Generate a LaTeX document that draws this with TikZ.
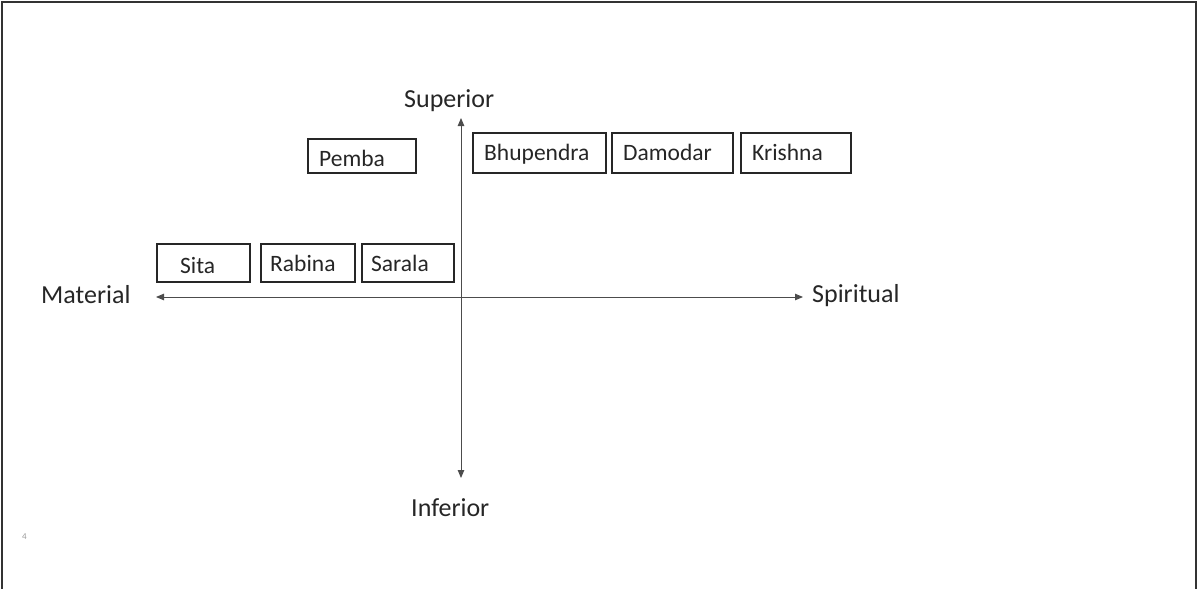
\documentclass[tikz,border=0pt]{standalone}
\usepackage{fontspec}
\setmainfont{Carlito}
\usetikzlibrary{arrows.meta}
\tikzset{
  box/.style={draw=black!85, line width=1.6pt, inner sep=0pt},
  boxtext/.style={anchor=base west, inner sep=0pt, font=\fontsize{23.5}{28}\selectfont, text=black!85},
  axislabel/.style={anchor=base west, inner sep=0pt, font=\fontsize{26}{31}\selectfont, text=black!85},
  axis/.style={draw=black!70, line width=0.9pt, {Stealth[length=8pt,width=6.5pt,inset=0pt]}-{Stealth[length=8pt,width=6.5pt,inset=0pt]}},
  frame/.style={draw=black!80, line width=1.8pt}
}
\begin{document}
\begin{tikzpicture}[x=1pt,y=-1pt]
\useasboundingbox (0,0) rectangle (1197,589);
% frame
\draw[frame] (2,589) -- (2,2) -- (1196,2) -- (1196,589);
% axis end points
\coordinate (left) at (156,297);
\coordinate (right) at (803,297);
\coordinate (top) at (461,118);
\coordinate (bottom) at (461,478);
\draw[axis] (left) -- (right);
\draw[axis] (bottom) -- (top);
% axis labels
\node[axislabel] (superior) at (404,107) {Superior};
\node[axislabel] (inferior) at (411,516) {Inferior};
\node[axislabel] (material) at (41,303) {Material};
\node[axislabel] (spiritual) at (812,302) {Spiritual};
% boxes
\node[box, minimum width=93pt, minimum height=38pt] (sitabox) at (203.5,263) {};
\node[box, minimum width=94pt, minimum height=38pt] (rabinabox) at (308,263) {};
\node[box, minimum width=92pt, minimum height=38pt] (saralabox) at (408,263) {};
\node[box, minimum width=108pt, minimum height=34pt] (pembabox) at (362,156) {};
\node[box, minimum width=133pt, minimum height=40pt] (bhupendrabox) at (539.5,153) {};
\node[box, minimum width=121pt, minimum height=40pt] (damodarbox) at (672.5,153) {};
\node[box, minimum width=110pt, minimum height=40pt] (krishnabox) at (796,153) {};
% box texts
\node[boxtext] (sita) at (180,273) {Sita};
\node[boxtext] (rabina) at (270,271) {Rabina};
\node[boxtext] (sarala) at (371,271) {Sarala};
\node[boxtext] (pemba) at (319,166) {Pemba};
\node[boxtext] (bhupendra) at (484,160) {Bhupendra};
\node[boxtext] (damodar) at (623,160) {Damodar};
\node[boxtext] (krishna) at (752,160) {Krishna};
% page number
\node[anchor=base west, inner sep=0pt, font=\fontsize{9}{10}\selectfont, text=black!40] (pagenum) at (22,539) {4};
\end{tikzpicture}
\end{document}
